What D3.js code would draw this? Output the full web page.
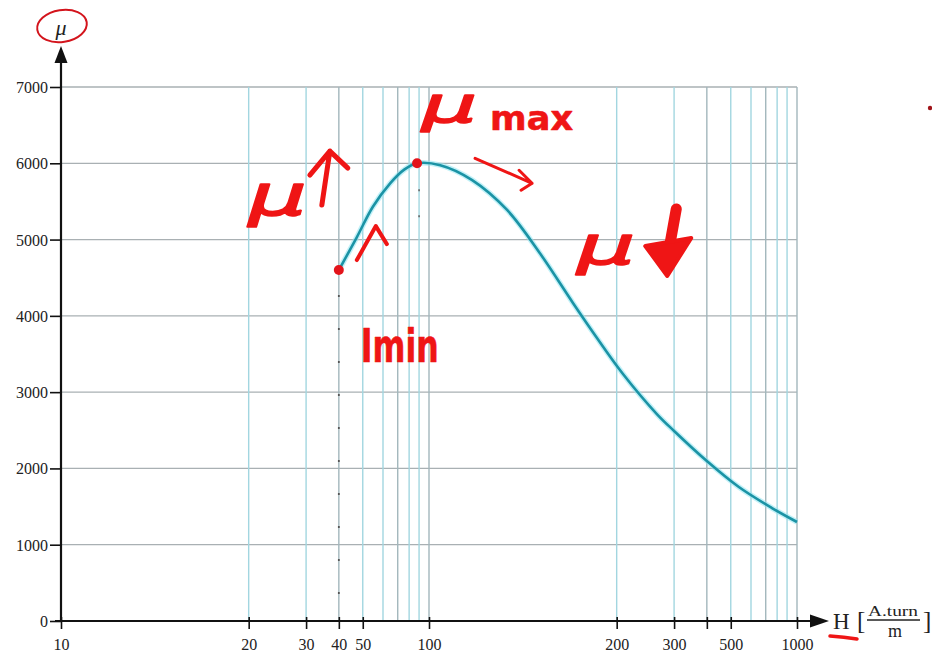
<!DOCTYPE html>
<html><head><meta charset="utf-8">
<script src="https://cdn.jsdelivr.net/npm/d3@7"></script>
<style>html,body{margin:0;padding:0;background:#fff;} svg{display:block;}</style>
</head><body>
<svg id="chart" width="932" height="652"></svg>
<script>
// ---------------- data ----------------
const H_values  = [40, 47.5, 55, 65, 76, 88, 106, 123, 141.6, 159, 176.7, 189.5, 211, 270, 300, 400, 540, 755, 1000];
const mu_values = [4600, 5030, 5430, 5740, 5920, 6000, 5975, 5780, 5388, 4824, 4169, 3710, 3238, 2713, 2491, 2097, 1756, 1481, 1298];
const xGridValues = [10,20,30,40,50,60,70,80,90,100,200,300,400,500,600,700,800,900,1000];
const xTickMarks  = [10,20,30,40,50,100,200,300,400,500,1000];
const xTickLabels = [10,20,30,40,50,100,200,300,500,1000];
const yTickValues = [0,1000,2000,3000,4000,5000,6000,7000];
const yGridValues = [1000,2000,3000,4000,5000,6000,7000];
const startPoint = {H: 40, mu: 4600};
const peakPoint  = {H: 88, mu: 6000};
// where digits 1..9 sit inside one decade of this hand-ruled axis (fraction of a decade)
const decadeDigitFrac = [0, 0.51, 0.666, 0.755, 0.82, 0.875, 0.915, 0.946, 0.973];

// ---------------- layout ----------------
const L = 61, R = 797, T = 87, B = 621;
const decW = (R - L) / 2;
function axisPos(v){
  const e = Math.floor(Math.log10(v) + 1e-9);
  const lead = Math.round(v / Math.pow(10, e));
  return L + decW * ((e - 1) + decadeDigitFrac[lead - 1]);
}
const x = d3.scaleLinear().domain(xGridValues).range(xGridValues.map(axisPos));
const y = d3.scaleLinear().domain([0, 7000]).range([B, T]);

const svg = d3.select("#chart");
const RED = "#ef1515";
const serif = "'Liberation Serif', 'DejaVu Serif', serif";
const hand = "'DejaVu Sans', sans-serif";

// ---------------- grid ----------------
svg.append("g").selectAll("line").data(yGridValues).join("line")
  .attr("x1", L).attr("x2", R)
  .attr("y1", d => y(d)).attr("y2", d => y(d))
  .attr("stroke", "#a9b0b3").attr("stroke-width", 1.3);
svg.append("g").selectAll("line").data(xGridValues.filter(d => d > 10)).join("line")
  .attr("x1", d => x(d)).attr("x2", d => x(d))
  .attr("y1", T).attr("y2", B)
  .attr("stroke", (d,i) => (i % 3 === 2 ? "#a3b7bc" : "#a2d6e0")).attr("stroke-width", 1.4);

// ---------------- axes ----------------
const yAxis = d3.axisLeft(y).tickValues(yTickValues).tickSize(11).tickPadding(2).tickFormat(d3.format("d"));
const gy = svg.append("g").attr("transform", `translate(${L},0)`).call(yAxis);
gy.select(".domain").remove();
gy.selectAll(".tick line").attr("stroke", "#111").attr("stroke-width", 1.6);
gy.selectAll(".tick text").attr("font-family", serif).attr("font-size", 16).attr("fill", "#222").attr("dy", "0.34em");

const xAxis = d3.axisBottom(x).tickValues(xTickMarks).tickSize(8).tickPadding(12)
  .tickFormat(d => xTickLabels.includes(d) ? d : "");
const gx = svg.append("g").attr("transform", `translate(0,${B})`).call(xAxis);
gx.select(".domain").remove();
gx.selectAll(".tick line").attr("y1", -4).attr("y2", 8).attr("stroke", "#111").attr("stroke-width", 1.6);
gx.selectAll(".tick text").attr("font-family", serif).attr("font-size", 16).attr("fill", "#222").attr("dy", "0.55em");

// axis lines with arrows
svg.append("line").attr("x1", L).attr("x2", L).attr("y1", B + 1).attr("y2", 60)
  .attr("stroke", "#111").attr("stroke-width", 2.2);
svg.append("path").attr("d", `M${L},46 L${L-6.5},63 L${L+6.5},63 Z`).attr("fill", "#111");
svg.append("line").attr("x1", L - 6).attr("x2", 814).attr("y1", B).attr("y2", B)
  .attr("stroke", "#111").attr("stroke-width", 2.2);
svg.append("path").attr("d", `M829,${B} L810,${B-6.5} L810,${B+6.5} Z`).attr("fill", "#111");

// y-axis title
svg.append("text").attr("x", 61).attr("y", 35).attr("text-anchor", "middle")
  .attr("font-family", serif).attr("font-style", "italic").attr("font-size", 22).attr("fill", "#222").text("μ");
svg.append("ellipse").attr("cx", 62).attr("cy", 26).attr("rx", 25).attr("ry", 16)
  .attr("transform", "rotate(-9,62,26)").attr("fill", "none").attr("stroke", "#d3141c").attr("stroke-width", 2);

// x-axis title
const xt = svg.append("g");
xt.append("text").attr("x", 833).attr("y", 629).attr("font-family", serif).attr("font-size", 23).attr("fill", "#222").text("H");
xt.append("text").attr("x", 857).attr("y", 629).attr("font-family", serif).attr("font-size", 25).attr("fill", "#222").text("[");
xt.append("text").attr("x", 893).attr("y", 616).attr("text-anchor", "middle").attr("font-family", serif).attr("font-size", 15)
  .attr("textLength", 50).attr("lengthAdjust", "spacingAndGlyphs").attr("fill", "#222").text("A.turn");
xt.append("line").attr("x1", 867).attr("x2", 920).attr("y1", 620).attr("y2", 620).attr("stroke", "#222").attr("stroke-width", 1.3);
xt.append("text").attr("x", 895).attr("y", 637).attr("text-anchor", "middle").attr("font-family", serif).attr("font-size", 18).attr("fill", "#222").text("m");
xt.append("text").attr("x", 923).attr("y", 629).attr("font-family", serif).attr("font-size", 25).attr("fill", "#222").text("]");
svg.append("path").attr("d", "M830,636 Q844,637 857,639").attr("fill", "none").attr("stroke", RED).attr("stroke-width", 3.5).attr("stroke-linecap", "round");

// ---------------- drop lines ----------------
svg.append("line").attr("x1", x(startPoint.H)).attr("x2", x(startPoint.H))
  .attr("y1", y(startPoint.mu) + 25).attr("y2", B - 10)
  .attr("stroke", "#555").attr("stroke-width", 1.8).attr("stroke-dasharray", "2 31");
svg.append("line").attr("x1", x(peakPoint.H) + 2).attr("x2", x(peakPoint.H) + 2)
  .attr("y1", y(peakPoint.mu) + 26).attr("y2", y(peakPoint.mu) + 56)
  .attr("stroke", "#666").attr("stroke-width", 1.6).attr("stroke-dasharray", "2 24");

// ---------------- curve ----------------
const pts = H_values.map((h, i) => [h, mu_values[i]]);
const line = d3.line().x(d => x(d[0])).y(d => y(d[1])).curve(d3.curveCatmullRom.alpha(0.5));
svg.append("path").attr("d", line(pts)).attr("fill", "none").attr("stroke", "#8fe6f2").attr("stroke-width", 5.5).attr("opacity", 0.55);
svg.append("path").attr("d", line(pts)).attr("fill", "none").attr("stroke", "#1b93a5").attr("stroke-width", 2.6);

// red dots
svg.selectAll("circle.pt").data([startPoint, peakPoint]).join("circle").attr("class", "pt")
  .attr("cx", d => x(d.H)).attr("cy", d => y(d.mu)).attr("r", 5).attr("fill", "#e3141b");

// ---------------- red handwritten annotations ----------------
const sx = x(startPoint.H), sy = y(startPoint.mu);
const px = x(peakPoint.H),  py = y(peakPoint.mu);
function redText(xx, yy, txt, size, len, italic){
  return svg.append("text").attr("x", xx).attr("y", yy)
    .attr("font-family", hand).attr("font-weight", "normal").attr("font-style", italic ? "italic" : "normal")
    .attr("font-size", size).attr("fill", RED).attr("stroke", RED).attr("stroke-width", 1.6)
    .attr("stroke-linejoin", "round")
    .attr("textLength", len).attr("lengthAdjust", "spacingAndGlyphs").text(txt);
}
function redPath(d, w){
  svg.append("path").attr("d", d).attr("fill", "none").attr("stroke", RED).attr("stroke-width", w)
    .attr("stroke-linecap", "round").attr("stroke-linejoin", "round");
}
// μ max
redText(px + 5, py - 41, "μ", 50, 55, true);
redText(px + 73, py - 33, "max", 34, 83, false).attr("font-weight", "bold").attr("stroke-width", 0.6);
// arrow along the falling branch
redPath(`M${px+58},${py-5} L${px+115},${py+20} M${px+102},${py+7} L${px+115},${py+20} L${px+104},${py+27}`, 3);
// μ ↑
redText(sx - 90, sy - 55, "μ", 56, 58, true);
redPath(`M${sx-17},${sy-65} L${sx-9},${sy-119} M${sx-29},${sy-95} L${sx-9},${sy-119} L${sx+9},${sy-102}`, 5);
// small arrow along the rising branch
redPath(`M${sx+18},${sy-10} L${sx+37},${sy-44} L${sx+48},${sy-26}`, 4);
// I min
redText(sx + 22, sy + 92, "Imin", 46, 78, false).attr("font-weight", "bold").attr("stroke-width", 0.6);
// μ ↓
const dH = 179, dMu = 4706;
const dx0 = x(dH), dy0 = y(dMu);
redText(dx0, dy0 + 2, "μ", 54, 58, true);
redPath(`M${dx0+99},${dy0-53} L${dx0+90},${dy0-3}`, 11);
svg.append("path").attr("d", `M${dx0+68},${dy0-16} L${dx0+114},${dy0-24} L${dx0+90},${dy0+14} Z`)
  .attr("fill", RED).attr("stroke", RED).attr("stroke-width", 4).attr("stroke-linejoin", "round");
// stray red mark at top right
svg.append("circle").attr("cx", x(1000) + 133).attr("cy", y(7000) + 21).attr("r", 2.2).attr("fill", "#a0141a");
</script>
</body></html>
